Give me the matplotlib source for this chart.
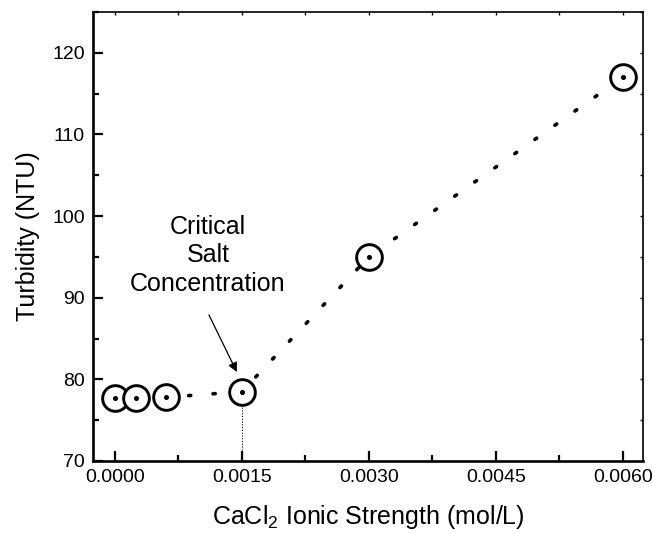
import numpy as np
import matplotlib
matplotlib.use('Agg')
import matplotlib.pyplot as plt
from matplotlib.ticker import MultipleLocator, FormatStrFormatter

plt.rcParams['font.family'] = ['Liberation Sans', 'DejaVu Sans']
plt.rcParams['mathtext.fontset'] = 'custom'
plt.rcParams['mathtext.rm'] = 'Liberation Sans'
plt.rcParams['mathtext.it'] = 'Liberation Sans:italic'

# data
ionic_strength = [0.0, 0.00025, 0.0006, 0.0015, 0.0030, 0.0060]
turbidity = [77.7, 77.7, 77.8, 78.5, 95.0, 117.0]
csc_x = 0.0015
csc_y = 78.5

fig = plt.figure(figsize=(6.52, 5.33), dpi=100)
ax = fig.add_axes([0.1426, 0.1351, 0.8436, 0.8424])

# dotted guide through the points
ax.plot(ionic_strength, turbidity, color='black', lw=2.6,
        linestyle=(0, (0.6, 6.2)), dash_capstyle='round', zorder=2)

# thin vertical drop line at the critical salt concentration
ax.plot([csc_x, csc_x], [70, csc_y], color='black', lw=0.8,
        linestyle=(0, (1, 1.5)), zorder=1)

# open circles with a centre dot
ax.plot(ionic_strength, turbidity, linestyle='none', marker='o', ms=18.5,
        mfc='white', mec='black', mew=2.1, zorder=3)
ax.plot(ionic_strength, turbidity, linestyle='none', marker='o', ms=2.6,
        mfc='black', mec='black', zorder=4)

ax.text(0.0011, 95.2, 'Critical\nSalt\nConcentration', ha='center',
        va='center', fontsize=18, linespacing=1.25)
ax.annotate('', xy=(0.00144, 80.9), xytext=(0.00111, 87.9),
            arrowprops=dict(arrowstyle='-|>', color='black', lw=0.9,
                            mutation_scale=14, shrinkA=0, shrinkB=0))

ax.set_xlim(-0.00026, 0.00624)
ax.set_ylim(70, 125)
ax.xaxis.set_major_locator(MultipleLocator(0.0015))
ax.xaxis.set_minor_locator(MultipleLocator(0.00075))
ax.xaxis.set_major_formatter(FormatStrFormatter('%.4f'))
ax.yaxis.set_major_locator(MultipleLocator(10))
ax.yaxis.set_minor_locator(MultipleLocator(5))

ax.set_xlabel('CaCl$_2$ Ionic Strength (mol/L)', fontsize=18, labelpad=12)
ax.set_ylabel('Turbidity (NTU)', fontsize=18, labelpad=9)

ax.tick_params(axis='both', which='major', direction='in', length=7,
               width=1.6, labelsize=14, pad=6)
ax.tick_params(axis='both', which='minor', direction='in', length=4.5,
               width=1.6)
ax.tick_params(which='both', top=True, right=True)
for t in ax.xaxis.get_major_ticks() + ax.xaxis.get_minor_ticks():
    t.tick2line.set_markersize(2)
    t.tick2line.set_markeredgewidth(1)
for t in ax.yaxis.get_major_ticks() + ax.yaxis.get_minor_ticks():
    t.tick2line.set_markersize(2)
    t.tick2line.set_markeredgewidth(1)

ax.spines['left'].set_linewidth(1.9)
ax.spines['bottom'].set_linewidth(1.9)
ax.spines['top'].set_linewidth(1.2)
ax.spines['right'].set_linewidth(1.2)

fig.savefig('out.png', dpi=100)
